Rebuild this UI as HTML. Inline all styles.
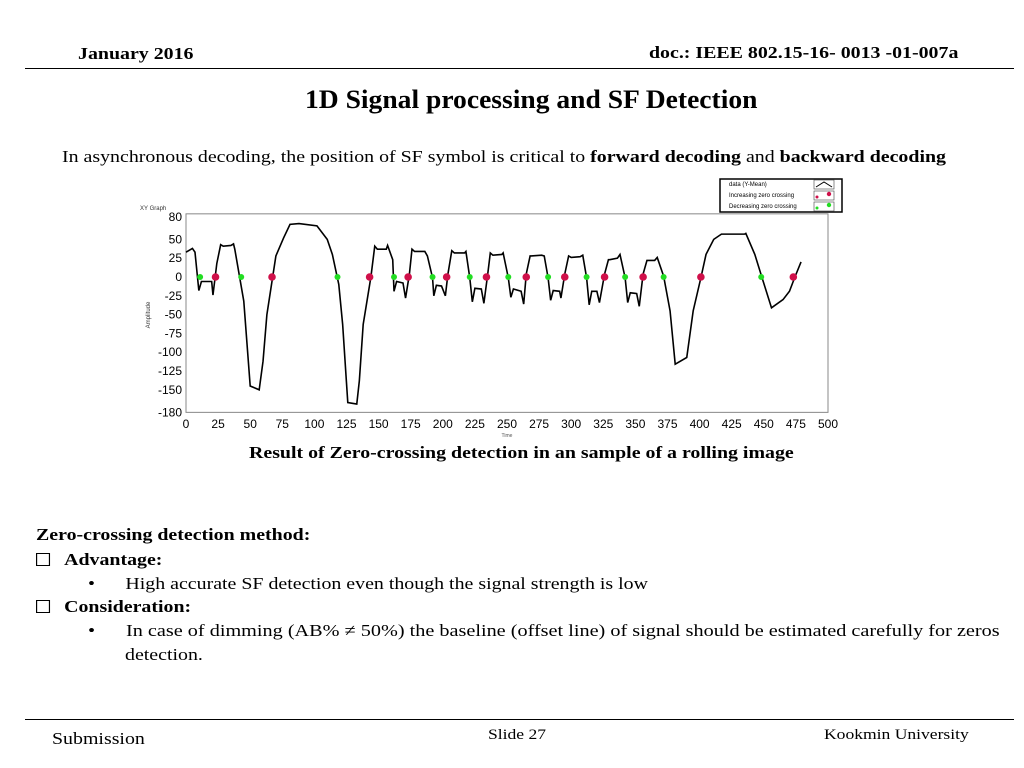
<!DOCTYPE html>
<html><head><meta charset="utf-8"><style>
body{margin:0;width:1024px;height:768px;background:#fff;position:relative;overflow:hidden;font-family:"Liberation Serif",serif;color:#000}
.t{position:absolute;white-space:nowrap;transform-origin:0 0;transform:scaleX(1.17);font-size:17px}
.b{font-weight:bold}
</style></head><body>
<div class="t b" style="left:78px;top:44px">January 2016</div>
<div class="t b" style="left:649px;top:43px">doc.: IEEE 802.15-16- 0013 -01-007a</div>
<div style="position:absolute;left:25px;top:68px;width:989px;height:1px;background:#000"></div>
<div class="t b" style="left:305px;top:85px;font-size:26px;transform:scaleX(1.06)">1D Signal processing and SF Detection</div>
<div class="t" style="left:62px;top:147px;transform:scaleX(1.17)">In asynchronous decoding, the position of SF symbol is critical to <b>forward decoding</b> and <b>backward decoding</b></div>
<svg style="position:absolute;left:0;top:0" width="1024" height="768" id="chart"></svg>
<div class="t b" style="left:249px;top:443px">Result of Zero-crossing detection in an sample of a rolling image</div>
<div class="t b" style="left:36px;top:525px">Zero-crossing detection method:</div>
<div class="t b" style="left:36px;top:550px"><span style="display:inline-block;width:10px;height:11px;border:1.5px solid #000;margin-right:12px;vertical-align:-1px"></span>Advantage:</div>
<div class="t" style="left:88px;top:574px">•<span style="margin-left:26px">High accurate SF detection even though the signal strength is low</span></div>
<div class="t b" style="left:36px;top:597px"><span style="display:inline-block;width:10px;height:11px;border:1.5px solid #000;margin-right:12px;vertical-align:-1px"></span>Consideration:</div>
<div class="t" style="left:88px;top:621px;transform:scaleX(1.19)">•<span style="margin-left:26px">In case of dimming (AB% ≠ 50%) the baseline (offset line) of signal should be estimated carefully for zeros</span></div>
<div class="t" style="left:125px;top:645px">detection.</div>
<div style="position:absolute;left:25px;top:719px;width:989px;height:1px;background:#000"></div>
<div class="t" style="left:52px;top:729px">Submission</div>
<div class="t" style="left:488px;top:727px;font-size:15px">Slide 27</div>
<div class="t" style="left:824px;top:727px;font-size:15px">Kookmin University</div>
<script>
const times=[0,5,7,10,12,20,21,24,27,29,35,37,38,45,50,57,60,63,70,76,81,88,102,110,114,119,122,126,133,135,138,144,147,149,156,157,161,162,164,169,171,174,176,178,186,188,192,193,195,199,202,204,207,209,217,218,221,223,225,230,232,235,237,239,246,247,251,253,255,261,263,265,268,269,277,279,282,284,286,291,292,295,298,300,307,309,312,314,316,320,322,326,329,330,336,338,342,344,346,351,353,356,359,365,367,372,377,381,390,395,401,405,411,417,420,435,436,443,449,456,465,470,474,479];
const amps=[33,38,33,-18,-6,-6,-24,18,43,41,42,44,37,-32,-145,-150,-112,-50,28,52,70,71,68,50,30,-10,-63,-167,-169,-138,-63,0,41,37,37,42,23,-19,-6,-8,-28,4,37,34,34,28,-1,-25,-11,-12,-25,4,35,32,32,34,-1,-33,-15,-16,-35,4,32,29,30,32,-1,-27,-16,-19,-36,4,28,28,29,28,-1,-31,-18,-19,-28,4,28,26,27,29,-1,-37,-19,-19,-34,4,23,23,25,30,-1,-34,-21,-22,-39,4,22,22,26,1,-45,-116,-107,-45,-1,30,50,57,57,57,58,30,-3,-41,-30,-19,-1,20];
const incTimes=[23,67,143,173,203,234,265,295,326,356,401,473];
const decTimes=[11,43,118,162,192,221,251,282,312,342,372,448];
const xTicks=[0,25,50,75,100,125,150,175,200,225,250,275,300,325,350,375,400,425,450,475,500];
const yTicks=[80,50,25,0,-25,-50,-75,-100,-125,-150,-180];
const NS='http://www.w3.org/2000/svg';
const svg=document.getElementById('chart');
const X0=186,X1=828,Y0=277,YS=0.752;
const xs=t=>X0+(X1-X0)*t/500;
const ys=v=>Y0-v*YS;
function mk(tag,attrs,parent){const e=document.createElementNS(NS,tag);for(const k in attrs)e.setAttribute(k,attrs[k]);(parent||svg).appendChild(e);return e;}
const frame=mk('rect',{x:X0,y:ys(80)-3,width:X1-X0,height:ys(-180)-ys(80)+3,fill:'#fff',stroke:'#888','stroke-width':1});


const gt=mk('text',{x:140,y:210,'font-size':6,'font-family':'Liberation Sans, sans-serif',fill:'#333'});gt.textContent='XY Graph';


const at=mk('text',{x:150,y:315,'font-size':6,'font-family':'Liberation Sans, sans-serif',fill:'#333',transform:'rotate(-90 150 315)','text-anchor':'middle'});at.textContent='Amplitude';


const xt=mk('text',{x:507,y:437,'font-size':5,'font-family':'Liberation Sans, sans-serif',fill:'#555','text-anchor':'middle'});xt.textContent='Time';


yTicks.forEach(v=>{const e=mk('text',{x:182,y:ys(v)+4,'font-size':12,'font-family':'Liberation Sans, sans-serif','text-anchor':'end'});e.textContent=v;

});
xTicks.forEach(v=>{const e=mk('text',{x:xs(v),y:428,'font-size':12,'font-family':'Liberation Sans, sans-serif','text-anchor':'middle'});e.textContent=v;

});
const line=mk('polyline',{points:times.map((t,i)=>xs(t)+','+ys(amps[i])).join(' '),fill:'none',stroke:'#000','stroke-width':1.6});


decTimes.forEach(t=>{const c=mk('circle',{cx:xs(t),cy:ys(0),r:3,fill:'#22dd22'});

});
incTimes.forEach(t=>{const c=mk('circle',{cx:xs(t),cy:ys(0),r:3.8,fill:'#d0104a'});

});
const lg=mk('g',{});


mk('rect',{x:720,y:179,width:122,height:33,fill:'#fff',stroke:'#000','stroke-width':1.5},lg);
const labels=['data (Y-Mean)','Increasing zero crossing','Decreasing zero crossing'];
labels.forEach((s,i)=>{const e=mk('text',{x:729,y:186+i*11,'font-size':6,'font-family':'Liberation Sans, sans-serif'},lg);e.textContent=s;


mk('rect',{x:814,y:180+i*11,width:20,height:9,fill:'#fff',stroke:'#444','stroke-width':0.6},lg);});
mk('polyline',{points:'816,187 824,182 832,187',fill:'none',stroke:'#000'},lg);
mk('circle',{cx:817,cy:197,r:1.5,fill:'#d0104a'},lg);mk('circle',{cx:829,cy:194,r:2.2,fill:'#d0104a'},lg);
mk('circle',{cx:817,cy:208,r:1.5,fill:'#22dd22'},lg);mk('circle',{cx:829,cy:205,r:2.2,fill:'#22dd22'},lg);
</script>
</body></html>
